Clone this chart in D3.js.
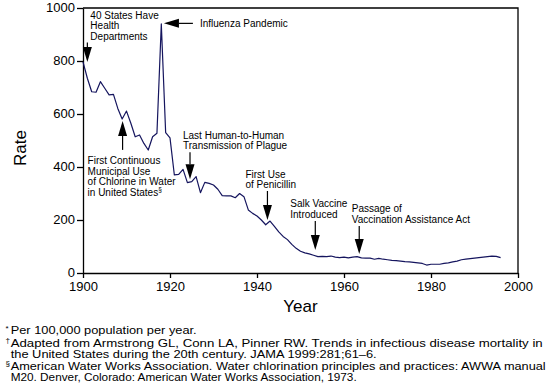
<!DOCTYPE html>
<html><head><meta charset="utf-8">
<script src="https://cdn.jsdelivr.net/npm/d3@7"></script>
<style>
body{margin:0;background:#fff;}
svg{display:block;font-family:"Liberation Sans",Arial,Helvetica,sans-serif;}
</style></head>
<body>
<svg id="chart" width="553" height="392"></svg>
<script>
const years = d3.range(1900, 1997);
const rates = [
 797,735,684,682,722,697,672,674,621,581,
 611,565,514,521,489,464,514,527,940,530,
 510,370,372,391,341,345,364,303,342,338,
 332,316,292,291,291,284,300,288,238,225,
 215,200,182,196,176,155,138,126,108,93,
 82,76,72,67,62,63,62,64,60,58,
 60,57,60,62,57,56,56,52,55,52,
 50,48,47,45,43,42,40,38,36,30,
 33,33,33,36,38,42,45,50,52,54,
 56,58,60,62,64,63,58
];
const xTicks = [1900,1920,1940,1960,1980,2000];
const yTicks = [0,200,400,600,800,1000];
const annotations = [
 {lines:["40 States Have","Health","Departments"], year:1901.0, value:796, dir:"down", dx:3, textY:-47},
 {lines:["First Continuous","Municipal Use","of Chlorine in Water","in United States§"], year:1909.1, value:574, dir:"up", dx:-35, textY:40},
 {lines:["Influenza Pandemic"], year:1918.6, value:942, dir:"left", dx:36, textY:0},
 {lines:["Last Human-to-Human","Transmission of Plague"], year:1924.6, value:354, dir:"down", dx:-7, textY:-44},
 {lines:["First Use","of Penicillin"], year:1942.4, value:200, dir:"down", dx:-22, textY:-46},
 {lines:["Salk Vaccine","Introduced"], year:1953.4, value:87, dir:"down", dx:-25, textY:-46},
 {lines:["Passage of","Vaccination Assistance Act"], year:1963.5, value:72, dir:"down", dx:-7.5, textY:-45}
];
const footnotes = [
 {sup:"*", text:"Per 100,000 population per year.", width:186},
 {sup:"†", text:"Adapted from Armstrong GL, Conn LA, Pinner RW. Trends in infectious disease mortality in", width:532},
 {sup:"", text:"the United States during the 20th century. JAMA 1999:281;61–6.", width:366},
 {sup:"§", text:"American Water Works Association. Water chlorination principles and practices: AWWA manual", width:535},
 {sup:"", text:"M20. Denver, Colorado: American Water Works Association, 1973.", width:346}
];

const svg = d3.select("#chart");
const m = {left:83, top:8, w:435, h:265};
const x = d3.scaleLinear().domain([1900,2000]).range([m.left, m.left+m.w]);
const y = d3.scaleLinear().domain([0,1000]).range([m.top+m.h, m.top]);

// frame
svg.append("path").attr("d", `M${x(1900)},${y(1000)}H${x(2000)}V${y(0)}`)
  .attr("fill","none").attr("stroke","#000").attr("stroke-width",1.3);

const xAxis = svg.append("g").attr("transform",`translate(0,${y(0)})`)
  .call(d3.axisBottom(x).tickValues(xTicks).tickFormat(d3.format("d")).tickSize(5).tickSizeOuter(0));
const yAxis = svg.append("g").attr("transform",`translate(${x(1900)},0)`)
  .call(d3.axisLeft(y).tickValues(yTicks).tickFormat(d3.format("d")).tickSize(6).tickSizeOuter(0));
[xAxis,yAxis].forEach(g=>{
  g.selectAll("path,line").attr("stroke","#000").attr("stroke-width",1.3);
  g.selectAll("text").attr("font-size",13).attr("fill","#000").attr("font-family","Liberation Sans, Arial, sans-serif");
});
xAxis.selectAll("text").attr("dy","0.6em").attr("y",10);
yAxis.selectAll("text").attr("x",-8).attr("dy","0.3em");

// line
const line = d3.line().x((d,i)=>x(years[i])).y(d=>y(d));
svg.append("path").datum(rates).attr("d",line)
  .attr("fill","none").attr("stroke","#15155e").attr("stroke-width",1.2).attr("stroke-linejoin","round");

// annotations
const ag = svg.append("g");
annotations.forEach(a=>{
  const tx = x(a.year), ty = y(a.value);
  if(a.dir==="down"){
    const shaftTop = ty + a.textY + (a.lines.length*10.5) - 4;
    ag.append("path").attr("d",`M${tx},${shaftTop}V${ty-15}`).attr("stroke","#000").attr("stroke-width",1.2);
    ag.append("path").attr("d",`M${tx-4.5},${ty-15}L${tx+4.5},${ty-15}L${tx},${ty}Z`).attr("fill","#000");
  } else if(a.dir==="up"){
    ag.append("path").attr("d",`M${tx},${ty+29}V${ty+15}`).attr("stroke","#000").attr("stroke-width",1.2);
    ag.append("path").attr("d",`M${tx-4.5},${ty+15}L${tx+4.5},${ty+15}L${tx},${ty}Z`).attr("fill","#000");
  } else {
    ag.append("path").attr("d",`M${tx+29},${ty}H${tx+15}`).attr("stroke","#000").attr("stroke-width",1.2);
    ag.append("path").attr("d",`M${tx+15},${ty-4.5}L${tx+15},${ty+4.5}L${tx},${ty}Z`).attr("fill","#000");
  }
  const t = ag.append("text").attr("font-size",10).attr("fill","#000");
  const x0 = tx + a.dx;
  a.lines.forEach((l,i)=>{
    const ts = t.append("tspan").attr("x",x0).attr("y", ty + a.textY + i*10.5 + 3.5);
    if(l.endsWith("§")){
      ts.text(l.slice(0,-1));
      t.append("tspan").attr("font-size",6.5).attr("dy",-4).text("§");
    } else ts.text(l);
  });
});

// axis titles
svg.append("text").attr("transform",`translate(26,148) rotate(-90)`)
  .attr("text-anchor","middle").attr("font-size",17).text("Rate");
svg.append("text").attr("x",(x(1900)+x(2000))/2).attr("y",312)
  .attr("text-anchor","middle").attr("font-size",17).text("Year");

// footnotes
const fy = [334,346.5,357.5,369.5,381];
footnotes.forEach((f,i)=>{
  if(f.sup){
    svg.append("text").attr("x",5.5).attr("y",fy[i]-3.5).attr("font-size",8).text(f.sup);
  }
  svg.append("text").attr("x",10.7).attr("y",fy[i]).attr("font-size",11)
    .attr("textLength",f.width).attr("lengthAdjust","spacingAndGlyphs").text(f.text);
});
</script>
</body></html>
